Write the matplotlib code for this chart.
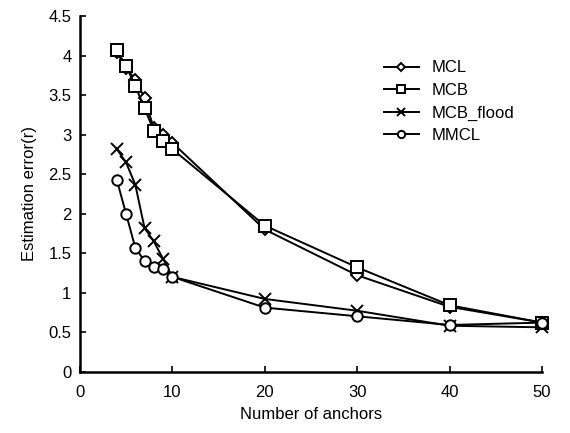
import matplotlib.pyplot as plt

plt.rcParams['font.family'] = ['Liberation Sans', 'DejaVu Sans']

anchors = [4, 5, 6, 7, 8, 9, 10, 20, 30, 40, 50]
mcl = [4.05, 3.85, 3.70, 3.47, 3.08, 3.00, 2.90, 1.80, 1.22, 0.82, 0.62]
mcb = [4.08, 3.87, 3.62, 3.34, 3.05, 2.92, 2.82, 1.85, 1.32, 0.84, 0.62]
mcb_flood = [2.82, 2.65, 2.37, 1.82, 1.65, 1.43, 1.20, 0.92, 0.77, 0.58, 0.56]
mmcl = [2.43, 2.00, 1.57, 1.40, 1.33, 1.30, 1.20, 0.81, 0.70, 0.59, 0.62]

fig = plt.figure(figsize=(5.7, 4.33), dpi=100)
ax = fig.add_axes([0.140, 0.142, 0.811, 0.820])

common = dict(color='black', linewidth=1.4, markerfacecolor='white',
              markeredgecolor='black', markeredgewidth=1.4, clip_on=False)
ax.plot(anchors, mcl, marker='D', markersize=6.5, label='MCL', **common)
ax.plot(anchors, mcb, marker='s', markersize=8, label='MCB', **common)
ax.plot(anchors, mcb_flood, marker='x', markersize=9, label='MCB_flood', **common)
ax.plot(anchors, mmcl, marker='o', markersize=7.5, label='MMCL', **common)

ax.set_xlim(0, 50)
ax.set_ylim(0, 4.5)
ax.set_xticks([0, 10, 20, 30, 40, 50])
ax.set_yticks([0, 0.5, 1, 1.5, 2, 2.5, 3, 3.5, 4, 4.5])
ax.set_yticklabels(['0', '0.5', '1', '1.5', '2', '2.5', '3', '3.5', '4', '4.5'])
ax.tick_params(direction='in', length=4, width=1.2, labelsize=12)
ax.tick_params(axis='x', pad=10)
ax.tick_params(axis='y', pad=6)
ax.spines['top'].set_visible(False)
ax.spines['right'].set_visible(False)
ax.spines['left'].set_linewidth(1.8)
ax.spines['bottom'].set_linewidth(1.8)

ax.set_xlabel('Number of anchors', fontsize=12, labelpad=5)
ax.set_ylabel('Estimation error(r)', fontsize=12, labelpad=8)

ax.legend(loc='upper left', bbox_to_anchor=(0.647, 0.895), bbox_transform=fig.transFigure,
          frameon=False, fontsize=12, handlelength=2.1, handletextpad=0.8,
          labelspacing=0.45, markerscale=0.7)

fig.savefig('out.png', dpi=100)
